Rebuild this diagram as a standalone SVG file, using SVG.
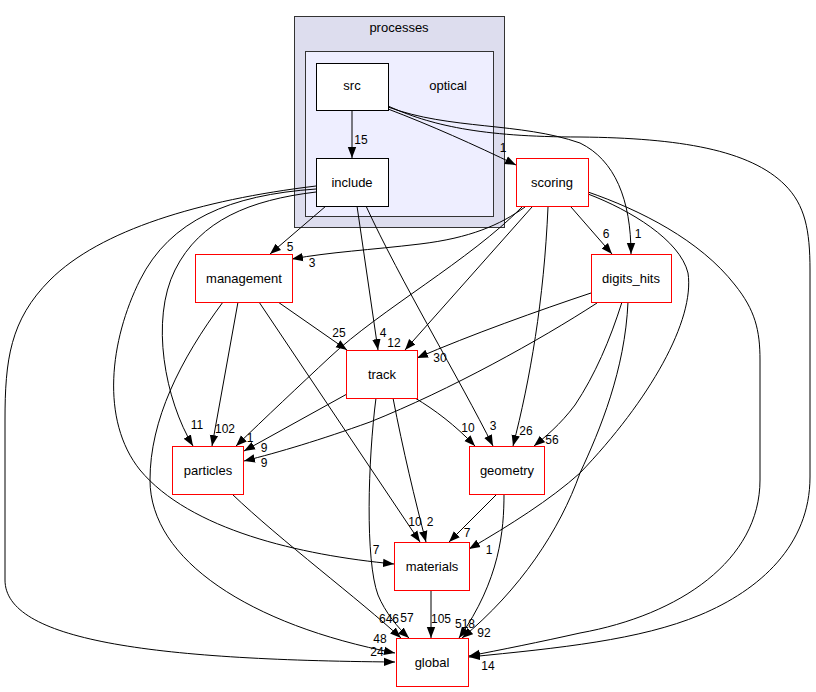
<svg xmlns="http://www.w3.org/2000/svg" width="816" height="692" viewBox="0 0 816 692">
<style>
.e{fill:none;stroke:#000;stroke-width:1;marker-end:url(#ah)}
.l{font-family:"Liberation Sans",Arial,sans-serif;font-size:12px;fill:#000;text-anchor:middle}
.n{font-family:"Liberation Sans",Arial,sans-serif;font-size:13px;fill:#000;text-anchor:middle}
.red{fill:#fff;stroke:#ff0000;stroke-width:1}
.blk{fill:#fff;stroke:#000;stroke-width:1}
</style>
<defs>
<marker id="ah" markerUnits="userSpaceOnUse" markerWidth="11" markerHeight="10" refX="11" refY="5" orient="auto">
<path d="M0,0.8 L11,5 L0,9.2 z" fill="#000"/>
</marker>
</defs>
<rect width="816" height="692" fill="#fff"/>
<g id="cluster_processes">
<rect x="294.5" y="16.5" width="210" height="211" fill="#ddddee" stroke="#333"/>
<text class="n" x="399" y="32">processes</text>
</g>
<g id="cluster_optical">
<rect x="305.5" y="51.5" width="188" height="165" fill="#eeeeff" stroke="#333"/>
<text class="n" x="448" y="90">optical</text>
</g>
<g id="edges">
<path class="e" d="M352,110 L352,158"/>
<path class="e" d="M388,109 C430,125 475,145 516,165"/>
<path class="e" d="M388,107 C450,130 520,122 580,143 C615,160 631,200 631,254"/>
<path class="e" d="M388,106 C430,125 480,137 580,137 C680,138 750,150 785,185 C805,205 810,230 810,270 L810,477 C810,545 760,590 700,615 C640,640 560,648 469,657"/>
<path class="e" d="M588,192 C640,210 700,240 735,285 C755,310 760,330 760,360 L760,480 C760,560 680,615 580,633 C540,642 500,650 469,656"/>
<path class="e" d="M588,194 C630,210 680,240 688,273 C695,320 650,400 580,473 C550,500 510,525 469,549"/>
<path class="e" d="M622,302 C610,340 595,375 575,405 C560,425 545,437 534,446"/>
<path class="e" d="M628,302 C625,370 600,430 580,473 C560,530 520,590 462,638"/>
<path class="e" d="M504,494 C504,530 500,580 459,638"/>
<path class="e" d="M497,494 L449,542"/>
<path class="e" d="M571,207 L612,254"/>
<path class="e" d="M548,207 C544,300 530,380 513,446"/>
<path class="e" d="M532,207 L405,350"/>
<path class="e" d="M522,207 C470,260 380,310 330,357 C300,385 265,418 236,446"/>
<path class="e" d="M525,207 C500,225 470,238 420,244 C370,250 330,252 292,259"/>
<path class="e" d="M591,293 C540,310 470,335 417,358"/>
<path class="e" d="M597,303 C540,340 450,390 370,422 C320,440 280,452 244,461"/>
<path class="e" d="M347,394 L244,451"/>
<path class="e" d="M415,398 C435,410 455,425 475,446"/>
<path class="e" d="M393,398 C403,450 415,500 426,542"/>
<path class="e" d="M376,398 C368,460 365,560 378,595 C385,612 398,628 409,638"/>
<path class="e" d="M232,494 C280,540 360,600 401,638"/>
<path class="e" d="M223,302 C180,360 150,420 150,480 C150,560 250,625 395,653"/>
<path class="e" d="M238,302 L212,446"/>
<path class="e" d="M259,302 L420,542"/>
<path class="e" d="M278,302 L347,350"/>
<path class="e" d="M431,590 L431,638"/>
<path class="e" d="M326,206 L270,254"/>
<path class="e" d="M357,206 L378,350"/>
<path class="e" d="M366,206 C400,280 460,380 493,446"/>
<path class="e" d="M316,192 C250,200 200,220 175,270 C150,320 165,400 193,446"/>
<path class="e" d="M316,189 C230,195 170,220 140,280 C110,340 100,420 140,470 C190,530 300,555 394,564"/>
<path class="e" d="M316,186 C200,200 100,230 50,280 C10,320 5,360 5,420 L5,580 C5,640 150,660 395,662"/>
</g>
<g id="edge_labels">
<text class="l" x="361" y="144">15</text>
<text class="l" x="503" y="152">1</text>
<text class="l" x="638" y="238">1</text>
<text class="l" x="488" y="670">14</text>
<text class="l" x="290" y="251">5</text>
<text class="l" x="383" y="337">4</text>
<text class="l" x="493" y="430">3</text>
<text class="l" x="197" y="429">11</text>
<text class="l" x="376" y="554">7</text>
<text class="l" x="377" y="656">24</text>
<text class="l" x="312" y="267">3</text>
<text class="l" x="250" y="442">1</text>
<text class="l" x="394" y="347">12</text>
<text class="l" x="526" y="435">26</text>
<text class="l" x="606" y="238">6</text>
<text class="l" x="489" y="554">1</text>
<text class="l" x="440" y="362">30</text>
<text class="l" x="264" y="467">9</text>
<text class="l" x="552" y="444">56</text>
<text class="l" x="484" y="637">92</text>
<text class="l" x="225" y="433">102</text>
<text class="l" x="339" y="337">25</text>
<text class="l" x="415" y="526">10</text>
<text class="l" x="380" y="643">48</text>
<text class="l" x="264" y="452">9</text>
<text class="l" x="468" y="432">10</text>
<text class="l" x="430" y="526">2</text>
<text class="l" x="407" y="622">57</text>
<text class="l" x="389" y="623">646</text>
<text class="l" x="467" y="537">7</text>
<text class="l" x="465" y="628">518</text>
<text class="l" x="441" y="623">105</text>
</g>
<g id="node_src"><rect class="blk" x="316.5" y="63.5" width="72" height="47"/><text class="n" x="352" y="90">src</text></g>
<g id="node_include"><rect class="blk" x="316.5" y="158.5" width="72" height="48"/><text class="n" x="352" y="187">include</text></g>
<g id="node_scoring"><rect class="red" x="516.5" y="158.5" width="72" height="48"/><text class="n" x="552" y="187">scoring</text></g>
<g id="node_digits_hits"><rect class="red" x="591.5" y="254.5" width="80" height="48"/><text class="n" x="631" y="283">digits_hits</text></g>
<g id="node_management"><rect class="red" x="195.5" y="254.5" width="97" height="48"/><text class="n" x="244" y="283">management</text></g>
<g id="node_track"><rect class="red" x="346.5" y="350.5" width="71" height="48"/><text class="n" x="382" y="379">track</text></g>
<g id="node_particles"><rect class="red" x="172.5" y="446.5" width="71" height="48"/><text class="n" x="208" y="475">particles</text></g>
<g id="node_geometry"><rect class="red" x="469.5" y="446.5" width="75" height="48"/><text class="n" x="507" y="475">geometry</text></g>
<g id="node_materials"><rect class="red" x="394.5" y="542.5" width="75" height="48"/><text class="n" x="432" y="571">materials</text></g>
<g id="node_global"><rect class="red" x="396.5" y="638.5" width="72" height="48"/><text class="n" x="432" y="667">global</text></g>
</svg>
